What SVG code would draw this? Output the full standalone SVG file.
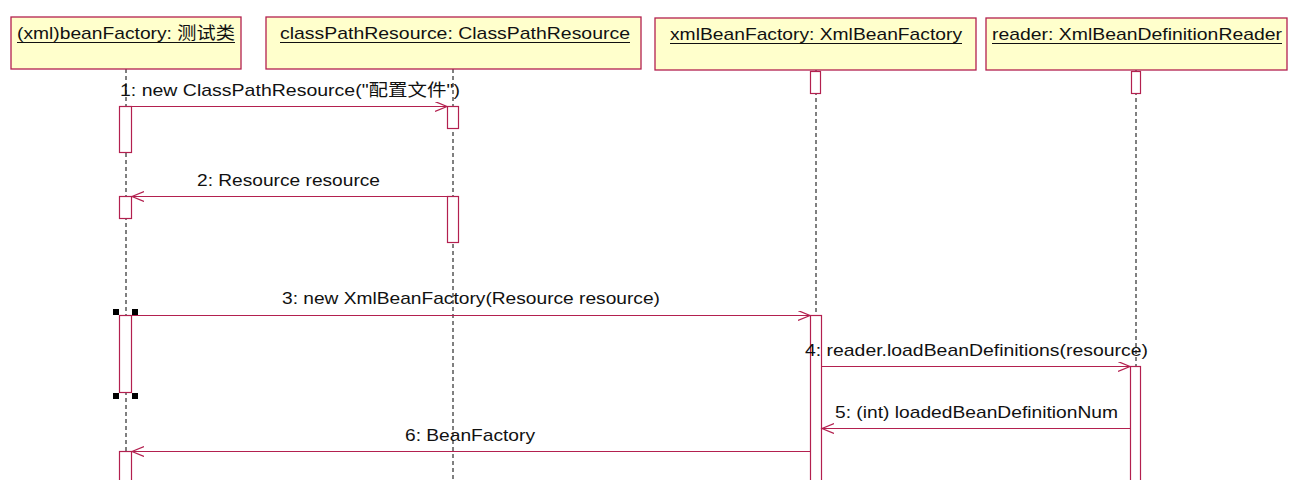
<svg xmlns="http://www.w3.org/2000/svg" width="1300" height="480" viewBox="0 0 1300 480">
<style>
.box{fill:#ffffcc;stroke:#b3204f;stroke-width:1.3}
.act{fill:#ffffff;stroke:#b3204f;stroke-width:1.2}
.life{stroke:#000;stroke-width:1;stroke-dasharray:4 3;fill:none}
.msg{stroke:#b3204f;stroke-width:1.2;fill:none;marker-end:url(#arr)}
.hdr{font-family:"Liberation Sans","Noto Sans CJK SC",sans-serif;font-size:17px;fill:#111}
.lbl{font-family:"Liberation Sans","Noto Sans CJK SC",sans-serif;font-size:17px;fill:#111}
.ul{stroke:#111;stroke-width:1}
.h{fill:#000}
</style>
<defs>
<marker id="arr" markerUnits="userSpaceOnUse" markerWidth="14" markerHeight="12" refX="12" refY="5" orient="auto">
<path d="M0,0 L12,5 L0,10" fill="none" stroke="#b3204f" stroke-width="1.2"/>
</marker>
</defs>
<rect width="1300" height="480" fill="#ffffff"/>

<g id="lifelines">
<line class="life" x1="126" y1="69" x2="126" y2="480"/>
<line class="life" x1="453" y1="69" x2="453" y2="480"/>
<line class="life" x1="816" y1="70" x2="816" y2="480"/>
<line class="life" x1="1136" y1="70" x2="1136" y2="480"/>
</g>

<g id="node-beanFactory">
<rect class="box" x="11" y="17" width="230" height="52"/>
<text class="hdr" x="17" y="39" textLength="218" lengthAdjust="spacingAndGlyphs">(xml)beanFactory: 测试类</text>
<line class="ul" x1="17" y1="42.5" x2="235" y2="42.5"/>
<rect class="act" x="119.5" y="106.5" width="12" height="46"/>
<rect class="act" x="119.5" y="196.5" width="12" height="22"/>
<rect class="act" x="119.5" y="315.5" width="12" height="77"/>
<rect class="act" x="119.5" y="451.5" width="12" height="40"/>
<rect class="h" x="113" y="309" width="6" height="6"/>
<rect class="h" x="132" y="309" width="6" height="6"/>
<rect class="h" x="113" y="393" width="6" height="6"/>
<rect class="h" x="132" y="393" width="6" height="6"/>
</g>

<g id="node-classPathResource">
<rect class="box" x="266" y="17" width="375" height="52"/>
<text class="hdr" x="280" y="39" textLength="350" lengthAdjust="spacingAndGlyphs">classPathResource: ClassPathResource</text>
<line class="ul" x1="280" y1="42.5" x2="630" y2="42.5"/>
<rect class="act" x="447.5" y="106.5" width="11" height="22"/>
<rect class="act" x="447.5" y="196.5" width="11" height="46"/>
</g>

<g id="node-xmlBeanFactory">
<rect class="box" x="655" y="18" width="321" height="52"/>
<text class="hdr" x="670" y="40" textLength="292" lengthAdjust="spacingAndGlyphs">xmlBeanFactory: XmlBeanFactory</text>
<line class="ul" x1="670" y1="43.5" x2="962" y2="43.5"/>
<rect class="act" x="810.5" y="71.5" width="10" height="22"/>
<rect class="act" x="810.5" y="315.5" width="11" height="180"/>
</g>

<g id="node-reader">
<rect class="box" x="986" y="18" width="301" height="52"/>
<text class="hdr" x="992" y="40" textLength="290" lengthAdjust="spacingAndGlyphs">reader: XmlBeanDefinitionReader</text>
<line class="ul" x1="992" y1="43.5" x2="1282" y2="43.5"/>
<rect class="act" x="1131.5" y="71.5" width="9" height="22"/>
<rect class="act" x="1130.5" y="366.5" width="10" height="130"/>
</g>

<g id="connectors">
<line class="msg" x1="131.5" y1="106.5" x2="447" y2="106.5"/>
<text class="lbl" x="120" y="96" textLength="340" lengthAdjust="spacingAndGlyphs">1: new ClassPathResource("配置文件")</text>
<line class="msg" x1="447.5" y1="196.5" x2="132" y2="196.5"/>
<text class="lbl" x="197" y="186" textLength="183" lengthAdjust="spacingAndGlyphs">2: Resource resource</text>
<line class="msg" x1="131.5" y1="315.5" x2="810" y2="315.5"/>
<text class="lbl" x="282" y="304" textLength="378" lengthAdjust="spacingAndGlyphs">3: new XmlBeanFactory(Resource resource)</text>
<line class="msg" x1="821.5" y1="366.5" x2="1130" y2="366.5"/>
<text class="lbl" x="805" y="356" textLength="343" lengthAdjust="spacingAndGlyphs">4: reader.loadBeanDefinitions(resource)</text>
<line class="msg" x1="1130.5" y1="428.5" x2="822" y2="428.5"/>
<text class="lbl" x="835" y="418" textLength="283" lengthAdjust="spacingAndGlyphs">5: (int) loadedBeanDefinitionNum</text>
<line class="msg" x1="810.5" y1="451.5" x2="132" y2="451.5"/>
<text class="lbl" x="405" y="441" textLength="130" lengthAdjust="spacingAndGlyphs">6: BeanFactory</text>
</g>
</svg>
